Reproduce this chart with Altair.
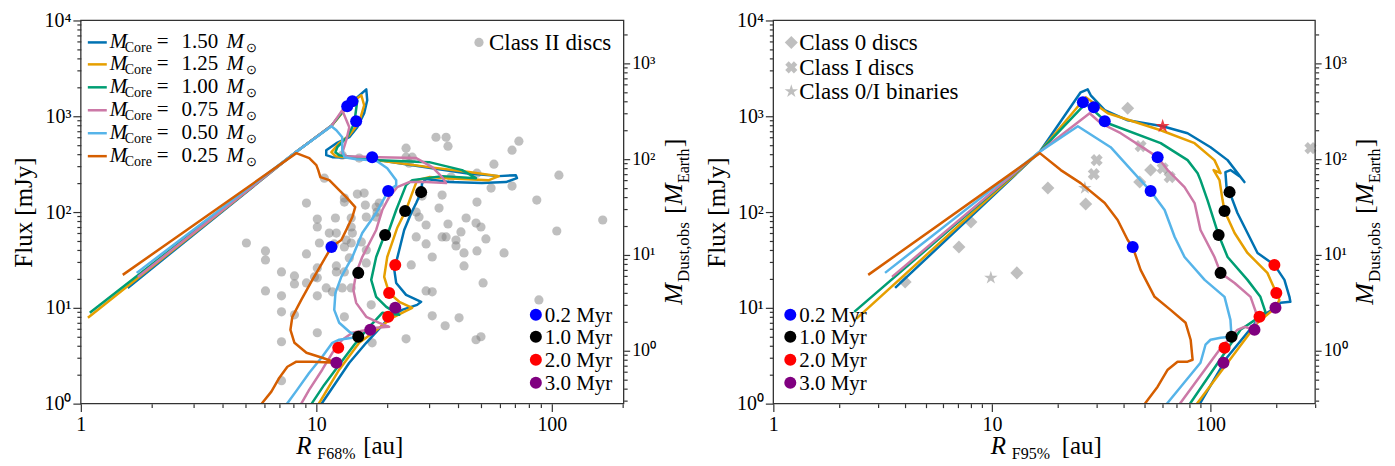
import altair as alt
import numpy as np
import pandas as pd

FONT = "Liberation Serif"

masses = ["1.50", "1.25", "1.00", "0.75", "0.50", "0.25"]
mass_colors = ["#0072B2", "#E69F00", "#009E73", "#CC79A7", "#56B4E9", "#D55E00"]

# ---------------- Left panel tracks (log10 R_F68% [au], log10 Flux [mJy]) ----------------
L150_logR = [0.199, 0.915, 1.064, 1.131, 1.212, 1.216, 1.203, 1.174, 1.140, 1.085, 1.042, 1.042, 1.068, 1.212, 1.352, 1.492, 1.636, 1.775, 1.847, 1.852, 1.805, 1.703, 1.564, 1.466, 1.449, 1.445, 1.424, 1.403, 1.373, 1.352, 1.331, 1.339, 1.381, 1.445, 1.428, 1.364, 1.309, 1.212, 1.140, 1.025, 0.996]
L150_logF = [1.208, 2.630, 2.900, 3.104, 3.281, 3.167, 3.031, 2.885, 2.781, 2.719, 2.646, 2.594, 2.573, 2.563, 2.510, 2.458, 2.406, 2.375, 2.385, 2.354, 2.313, 2.302, 2.313, 2.344, 2.302, 2.208, 2.094, 1.990, 1.813, 1.604, 1.396, 1.260, 1.135, 1.063, 1.031, 0.979, 0.896, 0.635, 0.427, 0.010, -0.115]
L125_logR = [0.030, 0.915, 1.064, 1.140, 1.191, 1.203, 1.182, 1.140, 1.097, 1.064, 1.081, 1.225, 1.479, 1.648, 1.775, 1.733, 1.551, 1.479, 1.428, 1.407, 1.381, 1.343, 1.301, 1.288, 1.309, 1.352, 1.407, 1.381, 1.322, 1.246, 1.182, 1.097, 1.013, 0.983]
L125_logF = [0.896, 2.630, 2.900, 3.125, 3.219, 3.115, 2.938, 2.802, 2.719, 2.625, 2.583, 2.552, 2.469, 2.417, 2.375, 2.333, 2.354, 2.365, 2.333, 2.198, 2.021, 1.833, 1.531, 1.323, 1.156, 1.063, 1.000, 0.969, 0.896, 0.750, 0.635, 0.354, 0.010, -0.115]
L100_logR = [0.038, 0.915, 1.064, 1.140, 1.174, 1.161, 1.131, 1.089, 1.081, 1.097, 1.267, 1.479, 1.619, 1.678, 1.534, 1.407, 1.381, 1.339, 1.309, 1.288, 1.254, 1.233, 1.254, 1.297, 1.352, 1.280, 1.225, 1.161, 1.097, 1.034, 0.983, 0.953]
L100_logF = [0.948, 2.630, 2.900, 3.135, 3.167, 2.927, 2.781, 2.677, 2.625, 2.594, 2.542, 2.521, 2.438, 2.354, 2.375, 2.333, 2.281, 2.021, 1.813, 1.750, 1.531, 1.292, 1.115, 1.010, 0.927, 0.948, 0.802, 0.615, 0.406, 0.198, 0.010, -0.115]
L075_logR = [0.242, 0.915, 1.064, 1.110, 1.140, 1.127, 1.110, 1.127, 1.267, 1.424, 1.492, 1.534, 1.551, 1.466, 1.394, 1.343, 1.309, 1.280, 1.254, 1.195, 1.169, 1.157, 1.169, 1.212, 1.267, 1.309, 1.254, 1.229, 1.195, 1.153, 1.110, 1.068, 1.025, 0.970, 0.936, 0.911]
L075_logF = [1.323, 2.630, 2.900, 3.063, 2.885, 2.750, 2.615, 2.583, 2.573, 2.563, 2.469, 2.365, 2.302, 2.313, 2.313, 2.260, 2.156, 2.021, 1.813, 1.531, 1.365, 1.188, 1.052, 0.906, 0.844, 0.802, 0.792, 0.771, 0.760, 0.740, 0.667, 0.531, 0.354, 0.146, 0.000, -0.115]
L050_logR = [0.237, 0.915, 1.064, 1.085, 1.110, 1.110, 1.119, 1.169, 1.237, 1.258, 1.301, 1.339, 1.339, 1.305, 1.254, 1.195, 1.153, 1.106, 1.081, 1.076, 1.097, 1.140, 1.182, 1.097, 1.068, 1.025, 0.970, 0.919, 0.873, 0.843]
L050_logF = [1.365, 2.630, 2.896, 2.854, 2.781, 2.646, 2.573, 2.552, 2.542, 2.531, 2.458, 2.333, 2.281, 2.219, 1.990, 1.781, 1.531, 1.323, 1.156, 0.979, 0.844, 0.750, 0.698, 0.667, 0.635, 0.490, 0.323, 0.146, -0.010, -0.115]
L025_logR = [0.178, 0.915, 0.970, 1.000, 1.008, 1.017, 1.055, 1.097, 1.131, 1.165, 1.153, 1.127, 1.106, 1.064, 1.025, 0.983, 0.936, 0.898, 0.890, 0.907, 0.958, 1.025, 1.085, 0.983, 0.915, 0.877, 0.843, 0.809, 0.771, 0.737]
L025_logF = [1.344, 2.615, 2.563, 2.490, 2.438, 2.365, 2.333, 2.229, 2.146, 2.052, 1.948, 1.813, 1.708, 1.635, 1.469, 1.292, 1.083, 0.906, 0.771, 0.635, 0.531, 0.479, 0.427, 0.438, 0.438, 0.385, 0.271, 0.125, 0.010, -0.115]

# ---------------- Right panel tracks (log10 R_F95% [au], log10 Flux [mJy]) ----------------
R150_logR = [0.557, 1.219, 1.406, 1.438, 1.452, 1.516, 1.621, 1.781, 1.895, 2.000, 2.078, 2.155, 2.137, 2.091, 2.068, 2.073, 2.087, 2.123, 2.169, 2.215, 2.292, 2.338, 2.361, 2.365, 2.320, 2.297, 2.228, 2.078, 1.954, 1.922]
R150_logF = [1.208, 2.630, 3.250, 3.281, 3.219, 3.063, 2.958, 2.896, 2.823, 2.677, 2.542, 2.313, 2.365, 2.438, 2.417, 2.260, 2.208, 1.990, 1.781, 1.573, 1.448, 1.292, 1.115, 1.063, 1.052, 1.000, 0.906, 0.490, 0.010, -0.115]
R125_logR = [0.379, 1.219, 1.429, 1.530, 1.772, 1.927, 2.018, 2.046, 2.014, 2.041, 2.055, 2.064, 2.110, 2.169, 2.260, 2.301, 2.315, 2.297, 2.215, 1.941, 1.909]
R125_logF = [0.885, 2.630, 3.198, 3.031, 2.854, 2.719, 2.542, 2.406, 2.438, 2.333, 2.125, 2.010, 1.781, 1.573, 1.365, 1.156, 1.083, 1.000, 0.844, 0.010, -0.115]
R100_logR = [0.370, 1.219, 1.429, 1.530, 1.772, 1.895, 1.941, 1.954, 1.986, 2.037, 2.078, 2.169, 2.228, 2.251, 2.224, 2.137, 1.909, 1.881]
R100_logF = [0.958, 2.630, 3.135, 2.927, 2.719, 2.542, 2.406, 2.333, 2.125, 1.760, 1.531, 1.292, 1.115, 0.958, 0.906, 0.771, 0.010, -0.115]
R075_logR = [0.543, 1.219, 1.447, 1.498, 1.589, 1.758, 1.804, 1.881, 1.927, 1.954, 2.018, 2.046, 2.110, 2.183, 2.215, 2.201, 2.155, 2.123, 2.041, 1.863, 1.836]
R075_logF = [1.323, 2.630, 3.031, 2.927, 2.823, 2.573, 2.438, 2.260, 2.094, 1.813, 1.531, 1.365, 1.260, 1.115, 0.906, 0.771, 0.802, 0.771, 0.563, 0.010, -0.115]
R050_logR = [0.511, 1.219, 1.393, 1.543, 1.667, 1.726, 1.790, 1.836, 1.881, 1.973, 2.064, 2.091, 2.096, 2.046, 2.000, 1.977, 1.954, 1.804, 1.772]
R050_logF = [1.365, 2.630, 2.896, 2.677, 2.365, 2.219, 2.021, 1.740, 1.531, 1.292, 1.115, 0.875, 0.698, 0.688, 0.667, 0.615, 0.427, 0.010, -0.115]
R025_logR = [0.434, 1.219, 1.315, 1.406, 1.516, 1.575, 1.621, 1.644, 1.680, 1.744, 1.817, 1.886, 1.909, 1.918, 1.895, 1.849, 1.804, 1.758, 1.703, 1.676]
R025_logF = [1.344, 2.615, 2.438, 2.302, 2.094, 1.917, 1.708, 1.635, 1.396, 1.115, 0.979, 0.844, 0.667, 0.458, 0.438, 0.438, 0.354, 0.177, 0.010, -0.115]

# ---------------- Time markers ----------------
times = ["0.2 Myr", "1.0 Myr", "2.0 Myr", "3.0 Myr"]
time_colors = ["#0000FF", "#000000", "#FF0000", "#800080"]
left_t02_logR = [1.153, 1.131, 1.169, 1.237, 1.305, 1.064]
left_t02_logF = [3.156, 3.104, 2.948, 2.573, 2.219, 1.635]
left_t10_logR = [1.445, 1.377, 1.292, 1.178, 1.178]
left_t10_logF = [2.208, 2.010, 1.760, 1.365, 0.698]
left_t20_logR = [1.335, 1.309, 1.305, 1.093]
left_t20_logF = [1.448, 1.156, 0.906, 0.583]
left_t30_logR = [1.335, 1.229, 1.085]
left_t30_logF = [1.000, 0.771, 0.427]
right_t02_logR = [1.416, 1.466, 1.516, 1.758, 1.726, 1.644]
right_t02_logF = [3.146, 3.094, 2.948, 2.573, 2.219, 1.635]
right_t10_logR = [2.087, 2.064, 2.037, 2.046, 2.096]
right_t10_logF = [2.208, 2.010, 1.760, 1.365, 0.698]
right_t20_logR = [2.292, 2.301, 2.224, 2.064]
right_t20_logF = [1.448, 1.156, 0.906, 0.583]
right_t30_logR = [2.297, 2.201, 2.059]
right_t30_logF = [1.000, 0.771, 0.427]

# ---------------- Observations ----------------
classII_logR = [0.958, 1.004, 1.004, 1.034, 0.703, 0.784, 0.784, 0.958, 0.852, 0.907, 0.907, 0.958, 1.004, 1.004, 0.784, 0.852, 1.004, 0.852, 0.907, 1.004, 0.852, 0.852, 1.081, 1.119, 1.119, 1.174, 1.203, 1.208, 1.254, 1.212, 1.254, 1.148, 1.148, 1.153, 1.055, 1.085, 1.119, 1.148, 1.191, 1.212, 1.085, 1.085, 1.119, 1.148, 1.212, 1.042, 1.110, 1.119, 1.233, 1.237, 1.508, 1.551, 1.559, 1.860, 1.831, 1.381, 1.381, 1.407, 1.394, 1.754, 2.030, 1.682, 1.572, 1.742, 1.831, 1.534, 1.682, 1.936, 1.449, 1.267, 1.258, 1.424, 1.521, 1.636, 1.678, 1.699, 1.614, 1.466, 1.436, 2.021, 2.216, 1.534, 1.559, 1.720, 1.551, 1.424, 1.466, 1.593, 1.593, 1.627, 1.682, 1.797, 1.492, 1.403, 1.627, 1.708, 1.466, 1.492, 1.492, 1.606, 1.547, 1.381, 1.678, 1.699, 1.945, 1.013, 1.076, 1.127, 1.140, 0.992, 1.068, 1.182, 1.110]
classII_logF = [2.094, 1.927, 1.844, 2.354, 1.677, 1.594, 1.500, 1.563, 1.375, 1.333, 1.250, 1.260, 1.417, 1.313, 1.177, 1.125, 1.125, 0.958, 0.927, 0.740, 0.646, 0.240, 1.938, 2.146, 2.104, 2.188, 2.198, 2.073, 2.052, 1.948, 1.948, 1.938, 1.844, 1.781, 1.781, 1.781, 1.635, 1.677, 1.688, 1.604, 1.438, 1.375, 1.375, 1.208, 1.469, 1.208, 1.208, 0.906, 1.031, 0.635, 2.781, 2.781, 2.688, 2.740, 2.646, 2.667, 2.573, 2.573, 2.510, 2.500, 2.385, 2.406, 2.365, 2.250, 2.271, 2.177, 2.104, 2.125, 2.167, 2.094, 2.000, 2.000, 2.042, 1.938, 1.885, 1.844, 1.792, 1.865, 1.948, 1.802, 1.917, 1.740, 1.875, 1.719, 1.740, 1.740, 1.667, 1.708, 1.646, 1.573, 1.594, 1.573, 1.531, 1.448, 1.438, 1.260, 1.177, 1.167, 0.917, 0.896, 0.813, 0.677, 0.667, 0.698, 1.083, 1.677, 1.667, 1.708, 1.521, 1.323, 1.167, 2.563, 2.594]
class0_logR = [1.621, 1.256, 1.429, 0.904, 0.849, 0.603, 1.114, 1.726, 1.676]
class0_logF = [3.083, 2.250, 2.083, 1.896, 1.635, 1.271, 1.365, 2.438, 2.313]
class1_logR = [1.479, 1.466, 1.680, 1.781, 1.813, 2.457]
class1_logF = [2.542, 2.396, 2.688, 2.458, 2.365, 2.667]
binary_logR = [0.995, 1.425]
binary_logF = [1.313, 2.250]
redstar_logR = [1.781]
redstar_logF = [2.896]

# ---------------- Layout constants ----------------
W, H = 1237, 384
XL = alt.Scale(type="log", domain=[1, 201.8], range=[0, 544], nice=False)
XR = alt.Scale(type="log", domain=[1, 301], range=[694, 1237], nice=False)
YS = alt.Scale(type="log", domain=[1, 10000], range=[H, 0], nice=False)
YM = alt.Scale(type="log", domain=[0.2805, 2805], range=[H, 0], nice=False)
SUP = "'10' + ['\u2070','\u00b9','\u00b2','\u00b3','\u2074'][round(log(datum.value)/LN10)]"
STAR = "M0,-1L0.2245,-0.309L0.951,-0.309L0.363,0.118L0.588,0.809L0,0.382L-0.588,0.809L-0.363,0.118L-0.951,-0.309L-0.2245,-0.309Z"
dummy = pd.DataFrame({"d": [0]})


def minor(lo, hi):
    return [k * 10.0 ** e for e in range(-1, 4) for k in range(2, 10) if lo <= k * 10.0 ** e <= hi]


common = dict(domain=False, grid=False, tickColor="#333333", tickWidth=1.2, labelFont=FONT,
              labelColor="black", labelFlush=False, labelOverlap=False)


def ax_x(values, major):
    if major:
        return alt.Axis(orient="bottom", values=values, format="d", tickSize=8, labelFontSize=20,
                        labelPadding=3, title=None, **common)
    return alt.Axis(orient="bottom", values=values, labels=False, tickSize=4, title=None, **common)


def ax_y(offset, major):
    if major:
        return alt.Axis(orient="left", offset=offset, values=[1, 10, 100, 1000, 10000], labelExpr=SUP,
                        tickSize=8, labelFontSize=20, labelPadding=2, title="Flux [mJy]",
                        titleFont=FONT, titleFontSize=25, titleFontWeight="normal", titleColor="black",
                        titlePadding=7, **common)
    return alt.Axis(orient="left", offset=offset, values=minor(1, 10000), labels=False, tickSize=4,
                    title=None, **common)


def ax_m(offset, major):
    if major:
        return alt.Axis(orient="right", offset=offset, values=[1, 10, 100, 1000], labelExpr=SUP,
                        tickSize=6, labelFontSize=18, labelPadding=2, title=None, **common)
    return alt.Axis(orient="right", offset=offset, values=minor(0.2805, 2805), labels=False,
                    tickSize=3.5, title=None, **common)


def pts(lr, lf):
    return pd.DataFrame({"R": np.power(10.0, lr), "F": np.power(10.0, lf)})


def track(lr, lf, color, xs, xaxis=None, yaxis=None):
    df = pts(lr, lf)
    df["seq"] = np.arange(len(df))
    return alt.Chart(df).mark_line(clip=True, strokeWidth=2.5, color=color, strokeJoin="round").encode(
        x=alt.X("R:Q", scale=xs, axis=xaxis), y=alt.Y("F:Q", scale=YS, axis=yaxis), order="seq:Q")


def markers(lists, xs):
    rows = []
    for t, (lr, lf) in zip(times, lists):
        for a, b in zip(lr, lf):
            rows.append({"R": 10 ** a, "F": 10 ** b, "t": t})
    return alt.Chart(pd.DataFrame(rows)).mark_circle(size=145, opacity=1).encode(
        x=alt.X("R:Q", scale=xs, axis=None), y=alt.Y("F:Q", scale=YS, axis=None),
        color=alt.Color("t:N", scale=alt.Scale(domain=times, range=time_colors), legend=None))


def maxis(xs, offset, major):
    df = pd.DataFrame({"R": [1.0], "M": [1.0]})
    return alt.Chart(df).mark_point(opacity=0).encode(
        x=alt.X("R:Q", scale=xs, axis=None), y=alt.Y("M:Q", scale=YM, axis=ax_m(offset, major)))


def label(txt, x, y, size, italic=False, angle=0):
    kw = dict(align="left", baseline="alphabetic", font=FONT, fontSize=size, color="black")
    if italic:
        kw["fontStyle"] = "italic"
    if angle:
        kw["angle"] = angle
    return alt.Chart(dummy).mark_text(**kw).encode(x=alt.value(x), y=alt.value(y), text=alt.value(txt))


def frame(x0, x1):
    return alt.Chart(dummy).mark_rect(fillOpacity=0, stroke="#333333", strokeWidth=1.3).encode(
        x=alt.value(x0), x2=alt.value(x1), y=alt.value(0), y2=alt.value(H))


def m_title(xb):
    return [label("M", xb, 285, 26, True, 270), label("Dust,obs", xb + 7, 262, 17, False, 270),
            label("[", xb, 194, 26, False, 270), label("M", xb, 185, 26, True, 270),
            label("Earth", xb + 7, 163, 16, False, 270), label("]", xb, 127, 26, False, 270)]


def time_legend(xc):
    df = pd.DataFrame({"t": times, "c": time_colors, "yc": [295, 317, 340, 363]})
    df["yb"] = df["yc"] + 7
    dots = alt.Chart(df).mark_circle(size=145, opacity=1).encode(
        x=alt.value(xc), y=alt.Y("yc:Q", scale=None), color=alt.Color("c:N", scale=None))
    txt = alt.Chart(df).mark_text(align="left", baseline="alphabetic", font=FONT, fontSize=21).encode(
        x=alt.value(xc + 9), y=alt.Y("yb:Q", scale=None), text="t:N")
    return [dots, txt]


L_tracks = [(L150_logR, L150_logF), (L125_logR, L125_logF), (L100_logR, L100_logF),
            (L075_logR, L075_logF), (L050_logR, L050_logF), (L025_logR, L025_logF)]
R_tracks = [(R150_logR, R150_logF), (R125_logR, R125_logF), (R100_logR, R100_logF),
            (R075_logR, R075_logF), (R050_logR, R050_logF), (R025_logR, R025_logF)]

layers = []

# ---------- Left panel ----------
layers.append(alt.Chart(pts(classII_logR, classII_logF)).mark_circle(size=85, color="#808080", opacity=0.5).encode(
    x=alt.X("R:Q", scale=XL, axis=None), y=alt.Y("F:Q", scale=YS, axis=None)))
for i, ((lr, lf), c) in enumerate(zip(L_tracks, mass_colors)):
    if i == 0:
        layers.append(track(lr, lf, c, XL, ax_x([1, 10, 100], True), ax_y(0, True)))
    elif i == 1:
        layers.append(track(lr, lf, c, XL, ax_x(minor(1, 201.8), False), ax_y(0, False)))
    else:
        layers.append(track(lr, lf, c, XL))
layers.append(markers([(left_t02_logR, left_t02_logF), (left_t10_logR, left_t10_logF),
                       (left_t20_logR, left_t20_logF), (left_t30_logR, left_t30_logF)], XL))
layers.append(maxis(XL, -(W - 544), True))
layers.append(maxis(XL, -(W - 544), False))
layers.append(frame(0, 544))

# legend of core masses
leg = pd.DataFrame({"m": masses, "c": mass_colors, "yc": [22, 44, 67, 90, 113, 136]})
leg["yb"] = leg["yc"] + 6
leg["ys"] = leg["yc"] + 10
layers.append(alt.Chart(leg).mark_rule(strokeWidth=2.5).encode(
    x=alt.value(7), x2=alt.value(26), y=alt.Y("yc:Q", scale=None), color=alt.Color("c:N", scale=None)))
for txt, x, ycol, size, ital in [("M", 29, "yb", 21, True), ("Core", 44, "ys", 14, False),
                                 ("=", 76, "yb", 21, False), (None, 101, "yb", 21, False),
                                 ("M", 146, "yb", 21, True), ("\u2299", 166, "ys", 13, False)]:
    kw = dict(align="left", baseline="alphabetic", font=FONT, fontSize=size, color="black")
    if ital:
        kw["fontStyle"] = "italic"
    enc = dict(x=alt.value(x), y=alt.Y(f"{ycol}:Q", scale=None))
    enc["text"] = alt.value(txt) if txt is not None else alt.Text("m:N")
    layers.append(alt.Chart(leg).mark_text(**kw).encode(**enc))

# Class II legend
layers.append(alt.Chart(dummy).mark_circle(size=85, color="#808080", opacity=0.5).encode(
    x=alt.value(399), y=alt.value(22)))
layers.append(label("Class II discs", 409, 30, 23))
layers += time_legend(456)
layers += [label("R", 216, 434, 25, True), label("F68%", 237, 439, 16), label("[au]", 283, 434, 25)]
layers += m_title(602)

# ---------- Right panel ----------
for lr, lf, shape, size, ang in [(class0_logR, class0_logF, "diamond", 170, 0),
                                 (class1_logR, class1_logF, "cross", 150, 45),
                                 (binary_logR, binary_logF, STAR, 200, 0)]:
    kw = dict(shape=shape, size=size, filled=True, color="#808080", opacity=0.5)
    if ang:
        kw["angle"] = ang
    layers.append(alt.Chart(pts(lr, lf)).mark_point(**kw).encode(
        x=alt.X("R:Q", scale=XR, axis=None), y=alt.Y("F:Q", scale=YS, axis=None)))
for i, ((lr, lf), c) in enumerate(zip(R_tracks, mass_colors)):
    if i == 0:
        layers.append(track(lr, lf, c, XR, ax_x([1, 10, 100], True), ax_y(-694, True)))
    elif i == 1:
        layers.append(track(lr, lf, c, XR, ax_x(minor(1, 301), False), ax_y(-694, False)))
    else:
        layers.append(track(lr, lf, c, XR))
layers.append(alt.Chart(pts(redstar_logR, redstar_logF)).mark_point(
    shape=STAR, size=220, filled=True, color="#E8202A", opacity=0.85).encode(
    x=alt.X("R:Q", scale=XR, axis=None), y=alt.Y("F:Q", scale=YS, axis=None)))
layers.append(markers([(right_t02_logR, right_t02_logF), (right_t10_logR, right_t10_logF),
                       (right_t20_logR, right_t20_logF), (right_t30_logR, right_t30_logF)], XR))
layers.append(maxis(XR, 0, True))
layers.append(maxis(XR, 0, False))
layers.append(frame(694, 1237))

# class legend (right panel)
for shape, y, ang, size, txt in [("diamond", 22, 0, 170, "Class 0 discs"), ("cross", 47, 45, 150, "Class I discs"),
                                 (STAR, 71, 0, 200, "Class 0/I binaries")]:
    kw = dict(shape=shape, size=size, filled=True, color="#808080", opacity=0.5)
    if ang:
        kw["angle"] = ang
    layers.append(alt.Chart(dummy).mark_point(**kw).encode(x=alt.value(712), y=alt.value(y)))
    layers.append(label(txt, 720, y + 8, 23))
layers += time_legend(711)
layers += [label("R", 912, 434, 25, True), label("F95%", 933, 439, 16), label("[au]", 983, 434, 25)]
layers += m_title(1295)

chart = alt.layer(*layers).resolve_scale(x="independent", y="independent", color="independent").properties(
    width=W, height=H,
    autosize=alt.AutoSizeParams(type="none"),
    padding={"left": 73, "top": 12, "right": 72, "bottom": 58},
).configure_view(strokeWidth=0)

chart.save("out.html", embed_options={"renderer": "svg", "actions": False})
